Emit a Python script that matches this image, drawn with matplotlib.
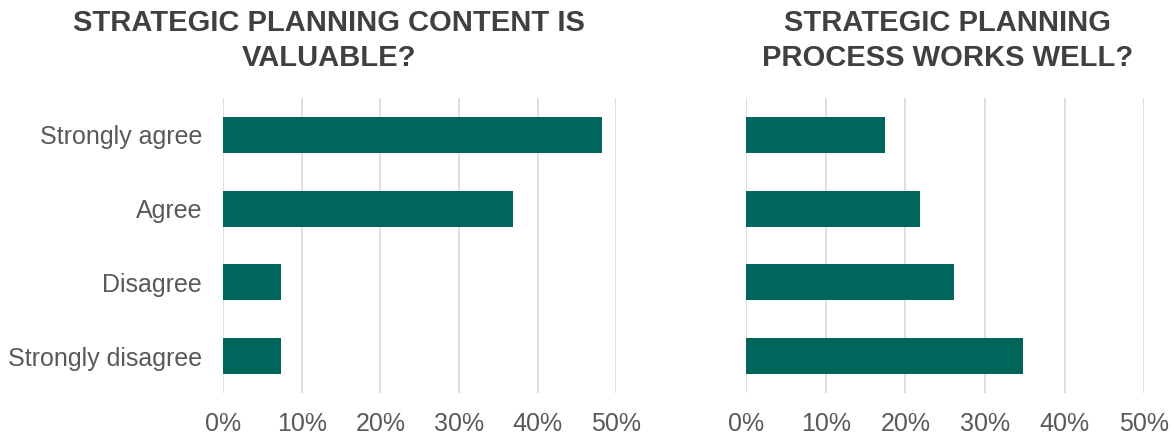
import matplotlib
matplotlib.use("Agg")
import matplotlib.pyplot as plt
from matplotlib.ticker import PercentFormatter

categories = ["Strongly agree", "Agree", "Disagree", "Strongly disagree"]
content_valuable = [48.1, 36.9, 7.4, 7.4]
process_works = [17.4, 21.8, 26.1, 34.8]
xticks = [0, 10, 20, 30, 40, 50]

bar_color = "#00665c"
grid_color = "#d9d9d9"
tick_color = "#595959"
title_color = "#404040"

plt.rcParams["font.family"] = ["Liberation Sans", "DejaVu Sans"]

fig = plt.figure(figsize=(11.74, 4.36), dpi=100)
ax1 = fig.add_axes([0.190, 0.0986, 0.3351, 0.6766])
ax2 = fig.add_axes([0.6357, 0.0986, 0.3388, 0.6766])

for ax, vals in [(ax1, content_valuable), (ax2, process_works)]:
    ax.barh(range(len(categories)), vals, height=0.49, color=bar_color, zorder=3)
    ax.set_xlim(0, 50)
    ax.set_ylim(3.5, -0.5)
    ax.set_xticks(xticks)
    ax.xaxis.set_major_formatter(PercentFormatter(decimals=0))
    ax.grid(axis="x", color=grid_color, linewidth=1.2, zorder=0)
    for s in ax.spines.values():
        s.set_visible(False)
    ax.tick_params(axis="both", length=0, labelsize=18, labelcolor=tick_color)
    ax.tick_params(axis="x", pad=14)
    ax.set_yticks(range(len(categories)))

ax1.set_yticklabels(categories)
ax1.tick_params(axis="y", pad=15)
ax2.set_yticklabels([])

fig.text(0.280, 0.908, "STRATEGIC PLANNING CONTENT IS\nVALUABLE?", ha="center", va="center",
         fontsize=21, fontweight="bold", color=title_color, linespacing=1.32)
fig.text(0.807, 0.908, "STRATEGIC PLANNING\nPROCESS WORKS WELL?", ha="center", va="center",
         fontsize=21, fontweight="bold", color=title_color, linespacing=1.32)

fig.savefig("out.png", dpi=100)
